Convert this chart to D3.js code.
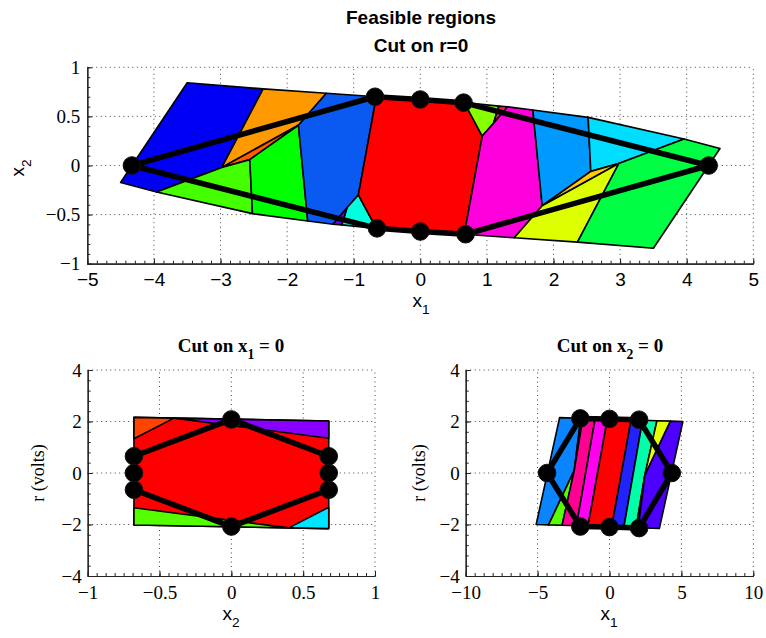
<!DOCTYPE html>
<html>
<head>
<meta charset="utf-8">
<script src="https://cdn.jsdelivr.net/npm/d3@7"></script>
<style>
  body { margin: 0; background: #fff; }
  svg { display: block; }
</style>
</head>
<body>
<svg id="fig" width="766" height="638"></svg>
<script>
// ---------- Cut on r = 0 : regions in the (x1, x2) plane ----------
const r0Blue        = [[-3.5,0.843],[-2.36,0.78],[-2.98,-0.02],[-3.96,-0.27],[-4.5,-0.173]];
const r0Orange      = [[-2.36,0.78],[-1.41,0.736],[-1.83,0.41],[-2.98,-0.02]];
const r0OrangeRed   = [[-2.98,-0.02],[-1.83,0.41],[-2.56,0.06]];
const r0LawnGreen   = [[-3.96,-0.27],[-2.98,-0.02],[-2.56,0.06],[-2.52,-0.49]];
const r0Green       = [[-2.56,0.06],[-1.83,0.41],[-1.69,-0.565],[-2.52,-0.49]];
const r0RoyalBlue   = [[-1.41,0.736],[-0.66,0.70],[-0.93,-0.30],[-1.10,-0.43],[-1.31,-0.598],[-1.69,-0.565],[-1.83,0.41]];
const r0Turquoise   = [[-0.93,-0.30],[-0.66,-0.64],[-1.18,-0.605],[-1.10,-0.43]];
const r0Violet      = [[-1.10,-0.43],[-1.18,-0.605],[-1.31,-0.598]];
const r0Red         = [[-0.66,0.70],[0,0.672],[0.66,0.64],[0.93,0.30],[0.66,-0.70],[0,-0.672],[-0.66,-0.64],[-0.93,-0.30]];
const r0Chartreuse  = [[0.93,0.30],[0.66,0.64],[1.18,0.605],[1.10,0.43]];
const r0Crimson     = [[1.10,0.43],[1.18,0.605],[1.31,0.598]];
const r0Magenta     = [[1.41,-0.736],[0.66,-0.70],[0.93,0.30],[1.10,0.43],[1.31,0.598],[1.69,0.565],[1.83,-0.41]];
const r0Azure       = [[2.56,-0.06],[1.83,-0.41],[1.69,0.565],[2.52,0.49]];
const r0Cyan        = [[3.96,0.27],[2.98,0.02],[2.56,-0.06],[2.52,0.49]];
const r0Gold        = [[2.98,0.02],[1.83,-0.41],[2.56,-0.06]];
const r0Lime        = [[2.36,-0.78],[1.41,-0.736],[1.83,-0.41],[2.98,0.02]];
const r0SpringGreen = [[3.5,-0.843],[2.36,-0.78],[2.98,0.02],[3.96,0.27],[4.5,0.173]];
const r0Trajectory  = [[-4.33,0],[-0.68,0.70],[0,0.672],[0.65,0.64],[4.33,0],[0.68,-0.70],[0,-0.672],[-0.65,-0.64]];
const r0XTicks = [-5,-4,-3,-2,-1,0,1,2,3,4,5];
const r0YTicks = [-1,-0.5,0,0.5,1];

// ---------- Cut on x1 = 0 : regions in the (x2, r) plane ----------
const x1Red        = [[-0.678,2.16],[0.678,2.02],[0.678,-2.16],[-0.678,-2.02]];
const x1OrangeRed  = [[-0.678,2.16],[-0.40,2.13],[-0.678,1.33]];
const x1Purple     = [[-0.40,2.13],[0.678,2.02],[0.678,1.35]];
const x1Green      = [[0.40,-2.13],[-0.678,-2.02],[-0.678,-1.35]];
const x1Cyan       = [[0.678,-2.16],[0.40,-2.13],[0.678,-1.33]];
const x1Trajectory = [[-0.678,0.65],[0,2.08],[0.678,0.65],[0.678,0],[0.678,-0.65],[0,-2.08],[-0.678,-0.65],[-0.678,0]];
const x1XTicks = [-1,-0.5,0,0.5,1];
const x1YTicks = [-4,-2,0,2,4];

// ---------- Cut on x2 = 0 : regions in the (x1, r) plane ----------
const x2DodgerBlue  = [[-3.47,2.15],[-2.0,2.124],[-2.45,0.1],[-4.24,-2.015],[-5.1,-2.0]];
const x2Orange      = [[-2.0,2.124],[-1.85,2.122],[-2.45,0.1]];
const x2LawnGreen   = [[-2.45,0.1],[-3.3,-2.032],[-4.24,-2.015]];
const x2DeepPink    = [[-1.85,2.122],[-1.0,2.107],[-2.3,-2.049],[-3.3,-2.032],[-2.45,0.1]];
const x2Magenta     = [[-1.0,2.107],[-0.15,2.092],[-1.5,-2.063],[-2.3,-2.049]];
const x2Red         = [[-0.15,2.092],[1.5,2.063],[0.15,-2.092],[-1.5,-2.063]];
const x2Blue        = [[1.5,2.063],[2.3,2.049],[1.0,-2.107],[0.15,-2.092]];
const x2Aquamarine  = [[2.3,2.049],[3.3,2.032],[2.45,-0.1],[1.85,-2.122],[1.0,-2.107]];
const x2Yellow      = [[3.3,2.032],[4.24,2.015],[2.45,-0.1]];
const x2Chartreuse  = [[2.0,-2.124],[1.85,-2.122],[2.45,-0.1]];
const x2Indigo      = [[3.47,-2.15],[2.0,-2.124],[2.45,-0.1],[4.24,2.015],[5.1,2.0]];
const x2Trajectory  = [[-4.34,0],[-2.03,2.12],[0,2.1],[2.06,2.07],[4.33,0],[2.06,-2.14],[0,-2.1],[-2.03,-2.08]];
const x2XTicks = [-10,-5,0,5,10];
const x2YTicks = [-4,-2,0,2,4];

const svg = d3.select("#fig");
const SERIF = "'Liberation Serif','Times New Roman',serif";
const SANS  = "'Liberation Sans',Arial,Helvetica,sans-serif";
const fmt = d3.format("");

function drawPanel(p) {
  const g = svg.append("g");
  const x = d3.scaleLinear().domain(p.xDomain).range(p.xRange);
  const y = d3.scaleLinear().domain(p.yDomain).range(p.yRange);
  const [x0, x1] = p.xRange, [y0, y1] = p.yRange;

  // dotted grid
  const grid = g.append("g").attr("stroke", "#444").attr("stroke-width", 1)
    .attr("stroke-dasharray", "1,3.5");
  grid.selectAll(".gx").data(p.xTicks.filter(v => v !== p.xDomain[0])).join("line")
    .attr("x1", d => x(d)).attr("x2", d => x(d)).attr("y1", y0).attr("y2", y1);
  grid.selectAll(".gy").data(p.yTicks.filter(v => v !== p.yDomain[0])).join("line")
    .attr("y1", d => y(d)).attr("y2", d => y(d)).attr("x1", x0).attr("x2", x1);

  // feasible regions
  const line = d3.line().x(d => x(d[0])).y(d => y(d[1]));
  g.append("g").selectAll("path").data(p.regions).join("path")
    .attr("d", d => line(d.pts) + "Z")
    .attr("fill", d => d.color)
    .attr("stroke", "#000").attr("stroke-width", 1.6).attr("stroke-linejoin", "round");

  // closed-loop trajectory
  g.append("path").attr("d", line(p.traj) + "Z")
    .attr("fill", "none").attr("stroke", "#000").attr("stroke-width", 5.5)
    .attr("stroke-linejoin", "round");
  g.append("g").selectAll("circle").data(p.traj).join("circle")
    .attr("cx", d => x(d[0])).attr("cy", d => y(d[1])).attr("r", 8.8)
    .attr("fill", "#000").attr("stroke", "#111").attr("stroke-width", 1);

  // axes (inward ticks, box off)
  const stepX = p.xTicks[1] - p.xTicks[0], stepY = p.yTicks[1] - p.yTicks[0];
  const nx = Math.max(2, Math.round(Math.abs(x(stepX) - x(0)) / 9.5));
  const ny = Math.max(2, Math.round(Math.abs(y(stepY) - y(0)) / 9.5));
  const minorX = d3.range(p.xDomain[0], p.xDomain[1] + 1e-9, stepX / nx);
  const minorY = d3.range(p.yDomain[0], p.yDomain[1] + 1e-9, stepY / ny);

  const gxMinor = g.append("g").attr("transform", `translate(0,${y0})`)
    .call(d3.axisBottom(x).tickValues(minorX).tickSizeInner(-3).tickSizeOuter(0).tickFormat(""));
  const gyMinor = g.append("g").attr("transform", `translate(${x0},0)`)
    .call(d3.axisLeft(y).tickValues(minorY).tickSizeInner(-3).tickSizeOuter(0).tickFormat(""));
  const gx = g.append("g").attr("transform", `translate(0,${y0})`)
    .call(d3.axisBottom(x).tickValues(p.xTicks).tickSizeInner(-5).tickSizeOuter(0)
      .tickPadding(p.xPad).tickFormat(fmt));
  const gy = g.append("g").attr("transform", `translate(${x0},0)`)
    .call(d3.axisLeft(y).tickValues(p.yTicks).tickSizeInner(-5).tickSizeOuter(0)
      .tickPadding(p.yPad).tickFormat(fmt));
  [gxMinor, gyMinor, gx, gy].forEach(a => {
    a.select(".domain").attr("stroke", "#222").attr("stroke-width", 1.2);
    a.selectAll(".tick line").attr("stroke", "#222");
  });
  gx.selectAll("text").attr("font-family", p.xFont).attr("font-size", 19).attr("fill", "#000");
  gy.selectAll("text").attr("font-family", p.yFont).attr("font-size", 19).attr("fill", "#000");
  return { x, y };
}

// ---------- panels ----------
drawPanel({
  xDomain: [-5, 5], xRange: [87.3, 753.3],
  yDomain: [-1, 1], yRange: [263.7, 67.3],
  xTicks: r0XTicks, yTicks: r0YTicks, xPad: 9, yPad: 7,
  xFont: SANS, yFont: SERIF,
  regions: [
    { color: "#0000f5", pts: r0Blue },
    { color: "#ff9900", pts: r0Orange },
    { color: "#ff5a00", pts: r0OrangeRed },
    { color: "#44ff00", pts: r0LawnGreen },
    { color: "#00ff00", pts: r0Green },
    { color: "#0a5af2", pts: r0RoyalBlue },
    { color: "#00ffdd", pts: r0Turquoise },
    { color: "#6a00ff", pts: r0Violet },
    { color: "#ff0000", pts: r0Red },
    { color: "#88ff00", pts: r0Chartreuse },
    { color: "#ff1a5e", pts: r0Crimson },
    { color: "#ff00dd", pts: r0Magenta },
    { color: "#0099ff", pts: r0Azure },
    { color: "#00ddff", pts: r0Cyan },
    { color: "#ffcc00", pts: r0Gold },
    { color: "#ddff00", pts: r0Lime },
    { color: "#00ff44", pts: r0SpringGreen }
  ],
  traj: r0Trajectory
});

drawPanel({
  xDomain: [-1, 1], xRange: [87.7, 375],
  yDomain: [-4, 4], yRange: [576, 370],
  xTicks: x1XTicks, yTicks: x1YTicks, xPad: 10, yPad: 6,
  xFont: SERIF, yFont: SERIF,
  regions: [
    { color: "#ff0000", pts: x1Red },
    { color: "#ff4400", pts: x1OrangeRed },
    { color: "#8800ff", pts: x1Purple },
    { color: "#55ff00", pts: x1Green },
    { color: "#00e5ff", pts: x1Cyan }
  ],
  traj: x1Trajectory
});

drawPanel({
  xDomain: [-10, 10], xRange: [465.7, 753.3],
  yDomain: [-4, 4], yRange: [576, 370],
  xTicks: x2XTicks, yTicks: x2YTicks, xPad: 10, yPad: 6,
  xFont: SERIF, yFont: SERIF,
  regions: [
    { color: "#0a84ff", pts: x2DodgerBlue },
    { color: "#ff6600", pts: x2Orange },
    { color: "#55ff00", pts: x2LawnGreen },
    { color: "#ff0090", pts: x2DeepPink },
    { color: "#ff00f0", pts: x2Magenta },
    { color: "#ff0000", pts: x2Red },
    { color: "#2222ff", pts: x2Blue },
    { color: "#00ffa8", pts: x2Aquamarine },
    { color: "#e8ff00", pts: x2Yellow },
    { color: "#77ff00", pts: x2Chartreuse },
    { color: "#4d00ff", pts: x2Indigo }
  ],
  traj: x2Trajectory
});

// ---------- titles and axis labels ----------
function label(xp, yp, parts, opts) {
  const t = svg.append("text")
    .attr("x", xp).attr("y", yp)
    .attr("text-anchor", "middle")
    .attr("font-family", opts.font).attr("font-size", opts.size)
    .attr("font-weight", opts.bold ? "bold" : "normal")
    .attr("fill", "#000");
  if (opts.rotate) t.attr("transform", `rotate(-90,${xp},${yp})`);
  parts.forEach(p => {
    const s = t.append("tspan").text(p.t);
    if (p.sub) s.attr("dy", opts.size * 0.35).attr("font-size", opts.size * 0.72);
    if (p.after) s.attr("dy", -opts.size * 0.35);
  });
  return t;
}

label(421, 24, [{ t: "Feasible regions" }], { font: SANS, size: 19, bold: true });
label(421, 52, [{ t: "Cut on r=0" }], { font: SANS, size: 19, bold: true });
label(231, 352, [{ t: "Cut on x" }, { t: "1", sub: true }, { t: " = 0", after: true }], { font: SERIF, size: 19, bold: true });
label(610, 352, [{ t: "Cut on x" }, { t: "2", sub: true }, { t: " = 0", after: true }], { font: SERIF, size: 19, bold: true });

label(421, 307, [{ t: "x" }, { t: "1", sub: true }], { font: SANS, size: 19 });
label(24, 168, [{ t: "x" }, { t: "2", sub: true }], { font: SANS, size: 19, rotate: true });
label(231, 620, [{ t: "x" }, { t: "2", sub: true }], { font: SANS, size: 19 });
label(609, 620, [{ t: "x" }, { t: "1", sub: true }], { font: SANS, size: 19 });
label(44, 473, [{ t: "r (volts)" }], { font: SERIF, size: 18, rotate: true });
label(425, 473, [{ t: "r (volts)" }], { font: SERIF, size: 18, rotate: true });
</script>
</body>
</html>
